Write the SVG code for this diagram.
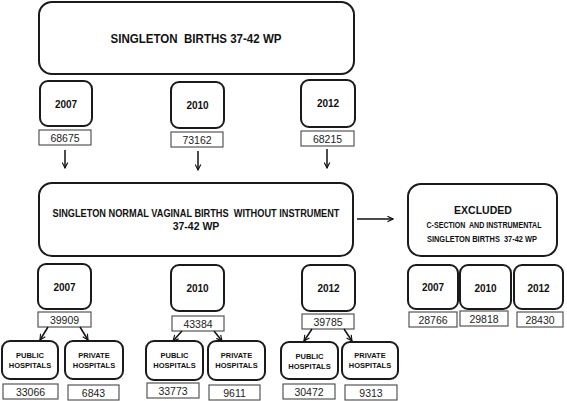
<svg xmlns="http://www.w3.org/2000/svg" width="567" height="401" viewBox="0 0 567 401" xml:space="preserve">
<defs>
<marker id="ah" viewBox="0 0 10 10" refX="9" refY="5" markerWidth="7" markerHeight="7" markerUnits="userSpaceOnUse" orient="auto">
<path d="M1,1 L9,5 L1,9" fill="none" stroke="#111" stroke-width="1.6"/>
</marker>
<style>
.big{fill:#fff;stroke:#1a1a1a;stroke-width:2}
.yr{fill:#fff;stroke:#1a1a1a;stroke-width:2}
.num{fill:#fff;stroke:#555;stroke-width:1.2}
.t{font-family:"Liberation Sans",Arial,sans-serif;font-weight:bold;fill:#111;text-anchor:middle;white-space:pre}
.n{font-family:"Liberation Sans",Arial,sans-serif;fill:#222;text-anchor:middle;font-size:10.5px}
.h{font-family:"Liberation Sans",Arial,sans-serif;font-weight:bold;fill:#111;text-anchor:middle;font-size:7.5px}
.c{stroke:#111;stroke-width:1.5;fill:none;marker-end:url(#ah)}
</style>
</defs>
<rect width="567" height="401" fill="#fff"/>
<g id="top">
<rect class="big" x="39" y="2" width="315" height="72" rx="13"/>
<text class="t" x="196" y="43" font-size="13" textLength="171" lengthAdjust="spacingAndGlyphs">SINGLETON  BIRTHS 37-42 WP</text>
</g>
<g id="y2007a"><rect class="yr" x="40" y="81" width="52" height="45" rx="8"/><text class="t" x="66" y="108" font-size="10">2007</text></g>
<g id="n2007a"><rect class="num" x="39" y="130" width="52" height="15"/><text class="n" x="65" y="141.5">68675</text></g>
<g id="y2010a"><rect class="yr" x="171" y="82" width="53" height="46" rx="8"/><text class="t" x="197.5" y="109" font-size="10">2010</text></g>
<g id="n2010a"><rect class="num" x="171" y="132" width="52" height="15"/><text class="n" x="197" y="143.5">73162</text></g>
<g id="y2012a"><rect class="yr" x="301" y="80" width="54" height="47" rx="8"/><text class="t" x="328" y="107" font-size="10">2012</text></g>
<g id="n2012a"><rect class="num" x="301" y="131" width="53" height="15"/><text class="n" x="327.5" y="142.5">68215</text></g>
<g id="mid">
<rect class="big" x="39" y="183" width="314" height="73" rx="13"/>
<text class="t" x="196" y="217" font-size="10.5" textLength="287" lengthAdjust="spacingAndGlyphs">SINGLETON NORMAL VAGINAL BIRTHS  WITHOUT INSTRUMENT</text>
<text class="t" x="196" y="230" font-size="10.5">37-42 WP</text>
</g>
<g id="excl">
<rect class="big" x="408" y="184" width="149" height="72" rx="13"/>
<text class="t" x="483" y="214" font-size="10.5">EXCLUDED</text>
<text class="t" x="484" y="228" font-size="8.5" textLength="115" lengthAdjust="spacingAndGlyphs">C-SECTION  AND INSTRUMENTAL</text>
<text class="t" x="482" y="242" font-size="8.5" textLength="110" lengthAdjust="spacingAndGlyphs">SINGLETON BIRTHS  37-42 WP</text>
</g>
<g id="y2007b"><rect class="yr" x="38" y="264" width="53" height="45" rx="8"/><text class="t" x="64.5" y="291" font-size="10">2007</text></g>
<g id="n2007b"><rect class="num" x="38" y="312" width="53" height="15"/><text class="n" x="64.5" y="323.5">39909</text></g>
<g id="y2010b"><rect class="yr" x="171" y="265" width="53" height="46" rx="8"/><text class="t" x="197.5" y="292" font-size="10">2010</text></g>
<g id="n2010b"><rect class="num" x="172" y="316" width="52" height="15"/><text class="n" x="198" y="327.5">43384</text></g>
<g id="y2012b"><rect class="yr" x="302" y="265" width="53" height="46" rx="8"/><text class="t" x="328.5" y="292" font-size="10">2012</text></g>
<g id="n2012b"><rect class="num" x="302" y="314" width="52" height="15"/><text class="n" x="328" y="325.5">39785</text></g>
<g id="ex2007"><rect class="yr" x="408" y="265" width="50" height="44" rx="8"/><text class="t" x="433" y="291" font-size="10">2007</text></g>
<g id="exn2007"><rect class="num" x="409" y="312" width="48" height="15"/><text class="n" x="433" y="323.5">28766</text></g>
<g id="ex2010"><rect class="yr" x="460" y="265" width="51" height="44" rx="8"/><text class="t" x="485.5" y="292" font-size="10">2010</text></g>
<g id="exn2010"><rect class="num" x="460" y="311" width="48" height="15"/><text class="n" x="484" y="322.5">29818</text></g>
<g id="ex2012"><rect class="yr" x="514" y="265" width="49" height="44" rx="8"/><text class="t" x="538.5" y="292" font-size="10">2012</text></g>
<g id="exn2012"><rect class="num" x="517" y="312" width="46" height="15"/><text class="n" x="540" y="323.5">28430</text></g>
<g id="pub2007"><rect class="yr" x="2" y="341" width="56" height="38" rx="8"/><text class="h" x="30" y="358">PUBLIC</text><text class="h" x="30" y="368">HOSPITALS</text></g>
<g id="pubn2007"><rect class="num" x="3" y="384" width="55" height="15"/><text class="n" x="30.5" y="395.5">33066</text></g>
<g id="pri2007"><rect class="yr" x="65" y="341" width="58" height="38" rx="8"/><text class="h" x="94" y="358">PRIVATE</text><text class="h" x="94" y="368">HOSPITALS</text></g>
<g id="prin2007"><rect class="num" x="68" y="385" width="51" height="15"/><text class="n" x="93.5" y="396.5">6843</text></g>
<g id="pub2010"><rect class="yr" x="146" y="341" width="57" height="39" rx="8"/><text class="h" x="174.5" y="358">PUBLIC</text><text class="h" x="174.5" y="368">HOSPITALS</text></g>
<g id="pubn2010"><rect class="num" x="147" y="383" width="52" height="15"/><text class="n" x="173" y="394.5">33773</text></g>
<g id="pri2010"><rect class="yr" x="208" y="341" width="57" height="39" rx="8"/><text class="h" x="236.5" y="358">PRIVATE</text><text class="h" x="236.5" y="368">HOSPITALS</text></g>
<g id="prin2010"><rect class="num" x="209" y="385" width="51" height="15"/><text class="n" x="234.5" y="396.5">9611</text></g>
<g id="pub2012"><rect class="yr" x="281" y="342" width="57" height="37" rx="8"/><text class="h" x="309.5" y="359">PUBLIC</text><text class="h" x="309.5" y="369">HOSPITALS</text></g>
<g id="pubn2012"><rect class="num" x="283" y="384" width="52" height="15"/><text class="n" x="309" y="395.5">30472</text></g>
<g id="pri2012"><rect class="yr" x="342" y="342" width="56" height="37" rx="8"/><text class="h" x="370" y="358">PRIVATE</text><text class="h" x="370" y="368">HOSPITALS</text></g>
<g id="prin2012"><rect class="num" x="345" y="385" width="52" height="15"/><text class="n" x="371" y="396.5">9313</text></g>
<g id="connectors">
<line class="c" x1="65" y1="150" x2="65" y2="168"/>
<line class="c" x1="198" y1="151" x2="198" y2="170"/>
<line class="c" x1="327" y1="149" x2="327" y2="168"/>
<line class="c" x1="357" y1="219" x2="393" y2="219"/>
<line class="c" x1="48" y1="327" x2="40" y2="340"/>
<line class="c" x1="80" y1="327" x2="88" y2="340"/>
<line class="c" x1="182" y1="331" x2="173" y2="341"/>
<line class="c" x1="214" y1="331" x2="222" y2="341"/>
<line class="c" x1="312" y1="329" x2="304" y2="341"/>
<line class="c" x1="344" y1="329" x2="352" y2="341"/>
</g>
</svg>
